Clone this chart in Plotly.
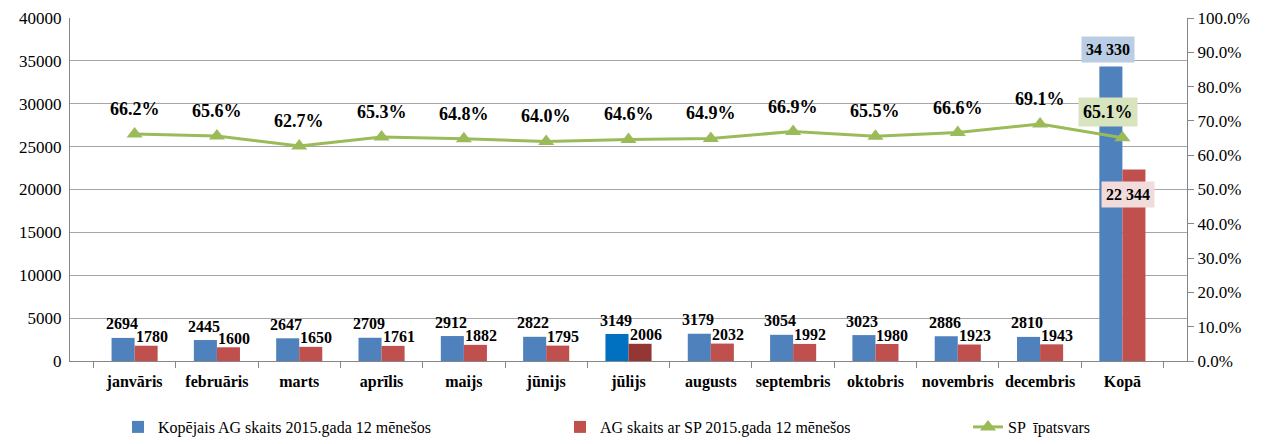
import plotly.graph_objects as go

categories = ["janvāris", "februāris", "marts", "aprīlis", "maijs", "jūnijs", "jūlijs",
              "augusts", "septembris", "oktobris", "novembris", "decembris", "Kopā"]
total_ag = [2694, 2445, 2647, 2709, 2912, 2822, 3149, 3179, 3054, 3023, 2886, 2810, 34330]
ag_sp = [1780, 1600, 1650, 1761, 1882, 1795, 2006, 2032, 1992, 1980, 1923, 1943, 22344]
share = [0.662, 0.656, 0.627, 0.653, 0.648, 0.640, 0.646, 0.649, 0.669, 0.655, 0.666, 0.691, 0.651]

series_names = ["Kopējais AG skaits 2015.gada 12 mēnešos",
                "AG skaits ar SP 2015.gada 12 mēnešos",
                "SP  īpatsvars"]

blue, red, green = "#4F81BD", "#C0504D", "#9BBB59"
blue_colors = [blue] * len(categories)
red_colors = [red] * len(categories)
blue_colors[6] = "#0070C0"
red_colors[6] = "#943634"

serif = "Liberation Serif"

# page body has an 8px default margin; the figure is sized so the chart lands at the same pixels
W, H, OFF = 1263, 436, 8

def fmt_space(v):
    return f"{v:,}".replace(",", " ")

fig = go.Figure()
fig.add_trace(go.Bar(
    x=categories, y=total_ag, name=series_names[0],
    marker=dict(color=blue_colors, line=dict(width=0)), legend="legend",
))
fig.add_trace(go.Bar(
    x=categories, y=ag_sp, name=series_names[1],
    marker=dict(color=red_colors, line=dict(width=0)), legend="legend2",
))
fig.add_trace(go.Scatter(
    x=categories, y=share, name=series_names[2], yaxis="y2", legend="legend3",
    mode="lines+markers",
    line=dict(color=green, width=3),
    marker=dict(symbol="triangle-up", size=14, color=green),
))

lab_font = dict(family=serif, size=16, color="black")
pct_font = dict(family=serif, size=18, color="black")

# data labels for the months
for c, b, r, s in zip(categories[:-1], total_ag[:-1], ag_sp[:-1], share[:-1]):
    fig.add_annotation(x=c, y=b, xshift=-13, yshift=14, text=f"<b>{b}</b>",
                       showarrow=False, font=lab_font)
    fig.add_annotation(x=c, y=r, xshift=17, yshift=9, text=f"<b>{r}</b>",
                       showarrow=False, font=lab_font)
    fig.add_annotation(x=c, y=s, yref="y2", yshift=25, text=f"<b>{s*100:.1f}%</b>",
                       showarrow=False, font=pct_font)

# boxed labels for the total category
fig.add_annotation(x=categories[-1], y=total_ag[-1], xshift=-14, yshift=17,
                   text=f"<b>{fmt_space(total_ag[-1])}</b>", showarrow=False,
                   bgcolor="#B9CDE5", font=lab_font, borderpad=4)
fig.add_annotation(x=categories[-1], y=ag_sp[-1], xshift=6, yshift=-25,
                   text=f"<b>{fmt_space(ag_sp[-1])}</b>", showarrow=False,
                   bgcolor="#F2DCDB", font=lab_font, borderpad=4)
fig.add_annotation(x=categories[-1], y=share[-1], yref="y2", xshift=-14, yshift=26,
                   text=f"<b>{share[-1]*100:.1f}%</b>", showarrow=False,
                   bgcolor="#D7E4BD", font=pct_font, borderpad=4)

leg_common = dict(orientation="h", xref="container", yref="container",
                  xanchor="left", yanchor="bottom", y=-0.01,
                  font=dict(family=serif, size=16, color="black"),
                  bgcolor="rgba(0,0,0,0)")

fig.update_layout(
    width=W, height=H,
    margin=dict(l=70 - OFF, r=84, t=18 - OFF, b=83, autoexpand=False),
    paper_bgcolor="white", plot_bgcolor="white",
    barmode="group", bargap=0.44, bargroupgap=0,
    font=dict(family=serif, size=16, color="black"),
    showlegend=True,
    legend=dict(x=(118 - OFF) / W, **leg_common),
    legend2=dict(x=(560 - OFF) / W, **leg_common),
    legend3=dict(x=(968 - OFF) / W, **leg_common),
    xaxis=dict(showline=True, linecolor="#868686", linewidth=1, automargin=False,
               ticks="outside", ticklen=6, tickcolor="#868686",
               tickson="boundaries", tickangle=0, ticklabelstandoff=6,
               tickfont=dict(family=serif, size=16, weight="bold")),
    yaxis=dict(range=[0, 40000], dtick=5000, tickformat="d", showgrid=True, gridcolor="#A6A6A6",
               showline=True, linecolor="#868686", ticks="", zeroline=False, automargin=False,
               ticklabelstandoff=4, tickfont=dict(family=serif, size=17)),
    yaxis2=dict(range=[0, 1], dtick=0.1, tickformat=".1%", overlaying="y", side="right",
                showgrid=False, showline=True, linecolor="#868686", automargin=False,
                ticks="outside", ticklen=6, tickcolor="#868686", zeroline=False,
                tickfont=dict(family=serif, size=17)),
)

fig.write_html("out.html")
